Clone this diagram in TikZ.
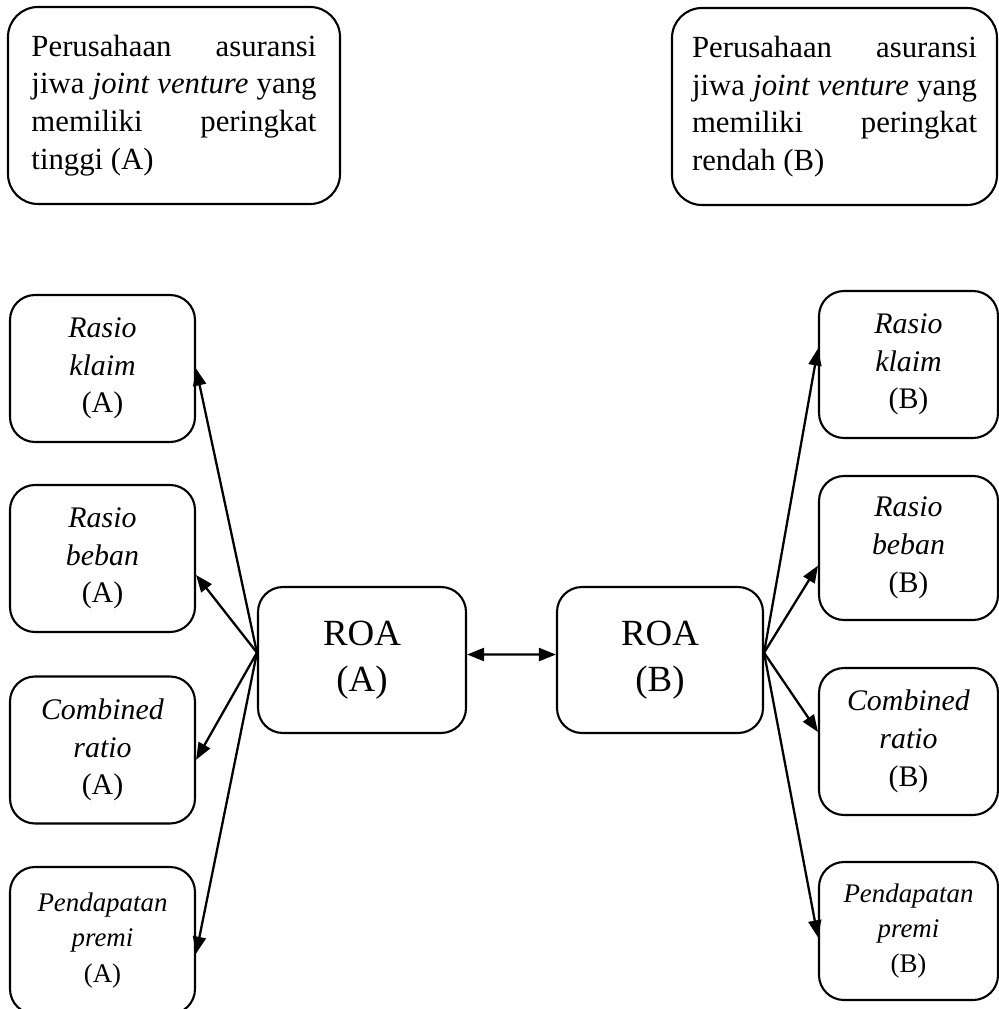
\documentclass[tikz,border=0pt]{standalone}
\usepackage{fontspec}
\setmainfont{Liberation Serif}
\usetikzlibrary{arrows.meta}
\hyphenpenalty=10000
\exhyphenpenalty=10000
\tikzstyle{box}=[draw, rounded corners=0.5cm, line width=1.2pt, align=center, inner sep=0]
\tikzstyle{company}=[box, rounded corners=0.6cm, minimum height=3.94cm, text width=5.7cm, align=justify, font=\fontsize{17.5}{21.5}\selectfont]
\tikzstyle{ratio}=[box, minimum width=3.7cm, minimum height=2.94cm, font=\fontsize{17}{21.5}\selectfont]
\tikzstyle{premi}=[ratio, font=\fontsize{15.3}{20}\selectfont]
\tikzstyle{roa}=[box, minimum width=4.16cm, minimum height=2.92cm, font=\fontsize{21}{26}\selectfont]
\tikzstyle{link}=[line width=1.3pt, -{Triangle[length=3.4mm,width=2.6mm]}]

\begin{document}
\begin{tikzpicture}
  \useasboundingbox (0, 0) rectangle (19.96, -20.18);

  \node[company, minimum width=6.64cm] (company_A) at (3.48, -2.11)
    {Perusahaan asuransi jiwa \textit{joint venture} yang memiliki peringkat tinggi (A)};
  \node[company, minimum width=6.5cm] (company_B) at (16.69, -2.13)
    {Perusahaan asuransi jiwa \textit{joint venture} yang memiliki peringkat rendah (B)};

  \node[ratio] (klaim_A) at (2.05, -7.37) {\textit{Rasio}\\\textit{klaim}\\(A)};
  \node[ratio] (beban_A) at (2.05, -11.17) {\textit{Rasio}\\\textit{beban}\\(A)};
  \node[ratio] (combined_A) at (2.05, -15.0) {\textit{Combined}\\\textit{ratio}\\(A)};
  \node[premi] (premi_A) at (2.05, -18.81) {\textit{Pendapatan}\\\textit{premi}\\(A)};

  \node[ratio, minimum width=3.58cm] (klaim_B) at (18.17, -7.29) {\textit{Rasio}\\\textit{klaim}\\(B)};
  \node[ratio, minimum width=3.58cm, minimum height=2.88cm] (beban_B) at (18.17, -10.96) {\textit{Rasio}\\\textit{beban}\\(B)};
  \node[ratio, minimum width=3.58cm] (combined_B) at (18.17, -14.83) {\textit{Combined}\\\textit{ratio}\\(B)};
  \node[premi, minimum width=3.58cm, minimum height=2.76cm] (premi_B) at (18.17, -18.62) {\textit{Pendapatan}\\\textit{premi}\\(B)};

  \node[roa] (roa_A) at (7.24, -13.2) {ROA\\(A)};
  \node[roa, minimum width=4.12cm] (roa_B) at (13.2, -13.2) {ROA\\(B)};

  \draw[link] (roa_A.176) to (klaim_A.east);
  \draw[link] (roa_A.176) to (beban_A.-10);
  \draw[link] (roa_A.176) to (combined_A.-6);
  \draw[link] (roa_A.176) to (premi_A.-8);

  \draw[link] (roa_B.4) to (klaim_B.170);
  \draw[link] (roa_B.4) to (beban_B.191);
  \draw[link] (roa_B.4) to (combined_B.174);
  \draw[link] (roa_B.4) to (premi_B.184);

  \draw[link, {Triangle[length=3.4mm,width=2.6mm]}-{Triangle[length=3.4mm,width=2.6mm]}] (roa_A.3) to (roa_B.177);
\end{tikzpicture}
\end{document}
